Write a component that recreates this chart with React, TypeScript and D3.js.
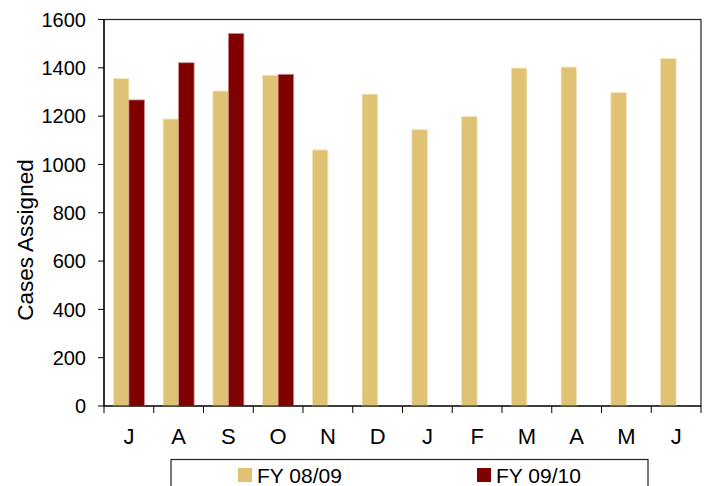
import React, { useEffect, useRef } from 'react';
import * as d3 from 'd3';

const months = ['J', 'A', 'S', 'O', 'N', 'D', 'J', 'F', 'M', 'A', 'M', 'J'];
const fy0809 = [1356, 1188, 1304, 1369, 1060, 1291, 1144, 1198, 1399, 1403, 1298, 1438];
const fy0910 = [1267, 1421, 1542, 1373];
const seriesNames = ['FY 08/09', 'FY 09/10'];
const seriesColors = ['#DFC273', '#800000'];
const seriesEdges = ['#F2E6BC', '#C98A8A'];
const yTicks = [0, 200, 400, 600, 800, 1000, 1200, 1400, 1600];

const App = () => {
  const ref = useRef<SVGSVGElement>(null);

  useEffect(() => {
    const svg = d3.select(ref.current);
    svg.selectAll('*').remove();

    const left = 104, right = 701, top = 19.5, bottom = 406;
    const font = '"Liberation Sans", Arial, sans-serif';

    const x = d3.scaleBand<number>()
      .domain(months.map((_, i) => i))
      .range([left, right]);
    const y = d3.scaleLinear().domain([0, 1600]).range([bottom, top]);

    const barW = 15.5;
    const inner = d3.scaleBand<number>().domain([0, 1]).range([-barW, barW]);

    // frame
    svg.append('rect')
      .attr('x', left).attr('y', top)
      .attr('width', right - left).attr('height', bottom - top)
      .attr('fill', 'none').attr('stroke', '#222').attr('stroke-width', 1.2);

    const rows = months.map((m, i) => ({ i, vals: [fy0809[i], fy0910[i]] }));

    rows.forEach(r => {
      r.vals.forEach((v, s) => {
        if (v === undefined) return;
        const cx = x(r.i)! + x.bandwidth() / 2;
        svg.append('rect')
          .attr('x', cx + inner(s)!)
          .attr('y', y(v))
          .attr('width', inner.bandwidth())
          .attr('height', y(0) - y(v))
          .attr('fill', seriesColors[s])
          .attr('stroke', seriesEdges[s])
          .attr('stroke-width', 0.8);
      });
    });

    // y axis
    const ya = svg.append('g');
    ya.append('line')
      .attr('x1', left).attr('x2', left).attr('y1', top).attr('y2', bottom)
      .attr('stroke', '#000').attr('stroke-width', 1.2);
    yTicks.forEach(t => {
      ya.append('line')
        .attr('x1', left - 6).attr('x2', left).attr('y1', y(t)).attr('y2', y(t))
        .attr('stroke', '#000');
      ya.append('text')
        .attr('x', 86).attr('y', y(t))
        .attr('dy', '0.36em')
        .attr('text-anchor', 'end')
        .style('font-family', font).style('font-size', '20px')
        .text(t);
    });

    // x axis
    const xa = svg.append('g');
    xa.append('line')
      .attr('x1', left).attr('x2', right).attr('y1', bottom).attr('y2', bottom)
      .attr('stroke', '#000').attr('stroke-width', 1.2);
    d3.range(months.length + 1).forEach(k => {
      const px = left + k * x.step();
      xa.append('line')
        .attr('x1', px).attr('x2', px).attr('y1', bottom).attr('y2', bottom + 7)
        .attr('stroke', '#000');
    });
    months.forEach((m, i) => {
      xa.append('text')
        .attr('x', x(i)! + x.bandwidth() / 2).attr('y', 443.5)
        .attr('text-anchor', 'middle')
        .style('font-family', font).style('font-size', '22px')
        .text(m);
    });

    svg.append('text')
      .attr('transform', 'translate(33,240) rotate(-90)')
      .attr('text-anchor', 'middle')
      .style('font-family', font).style('font-size', '22.5px')
      .text('Cases Assigned');

    // legend
    const lg = svg.append('g');
    lg.append('rect')
      .attr('x', 171).attr('y', 459.5).attr('width', 477).attr('height', 40)
      .attr('fill', '#fff').attr('stroke', '#222').attr('stroke-width', 1.2);
    const lx = [238, 477];
    seriesNames.forEach((n, s) => {
      lg.append('rect')
        .attr('x', lx[s]).attr('y', 468).attr('width', 14).attr('height', 14)
        .attr('fill', seriesColors[s]);
      lg.append('text')
        .attr('x', lx[s] + 19).attr('y', 483)
        .style('font-family', font).style('font-size', '21px')
        .text(n);
    });
  }, []);

  return (
    <svg
      ref={ref}
      width={707}
      height={486}
      style={{ position: 'absolute', left: 0, top: 0, background: '#fff' }}
    />
  );
};

export default App;
